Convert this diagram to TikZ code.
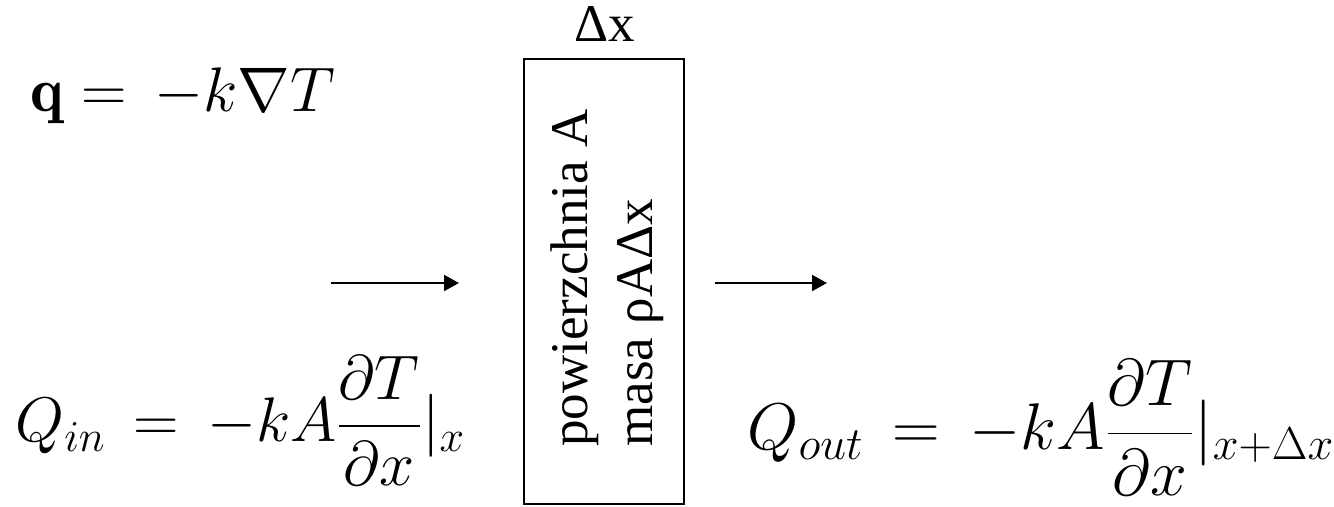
\RequirePackage{fix-cm}
\documentclass[tikz,border=0pt]{standalone}
\usepackage{mathtools}
\usepackage{fontspec}
\newfontfamily\timesfont{Liberation Serif}
\usetikzlibrary{arrows.meta, math}

\begin{document}
\begin{tikzpicture}[x=0.5pt, y=-0.5pt,
  eqn/.style={inner sep=0pt, anchor=base west, font=\fontsize{31.5}{38}\selectfont},
  lbl/.style={inner sep=0pt, font=\timesfont\fontsize{26.5}{32}\selectfont},
  flow/.style={-{Triangle[length=7.5pt,width=8pt]}, line width=1pt}]
\tikzmath{
\bx=604;
\by=281.5;
\ay=283;
}
\useasboundingbox (0,0) rectangle (1334,507);

% slab
\node[draw, line width=1pt, minimum width=80pt, minimum height=222.5pt, inner sep=0pt] (box) at (\bx,\by) {};
\node[lbl, anchor=base] (dx) at (605,42) {Δx};
\node[lbl, rotate=90, anchor=base west] (area) at (587,447) {powierzchnia A};
\node[lbl, rotate=90, anchor=base west] (mass) at (652,447) {masa ρAΔx};

% equations
\node[eqn] (flux) at (30,112) {$\mathbf{q} = \,-k\nabla T$};
\node[eqn] (qin) at (15,442) {$Q_{in} \,=\, -kA\dfrac{\partial T}{\partial x}|_x$};
\node[eqn, font=\fontsize{33}{40}\selectfont] (qout) at (747,450) {$Q_{out} \,=\, -kA\dfrac{\partial T}{\partial x}|_{x+\Delta x}$};

% heat flow
\coordinate (inA) at (331,\ay);
\coordinate (inB) at (459,\ay);
\coordinate (outA) at (715,\ay);
\coordinate (outB) at (827,\ay);
\draw[flow] (inA) -- (inB);
\draw[flow] (outA) -- (outB);
\end{tikzpicture}
\end{document}
